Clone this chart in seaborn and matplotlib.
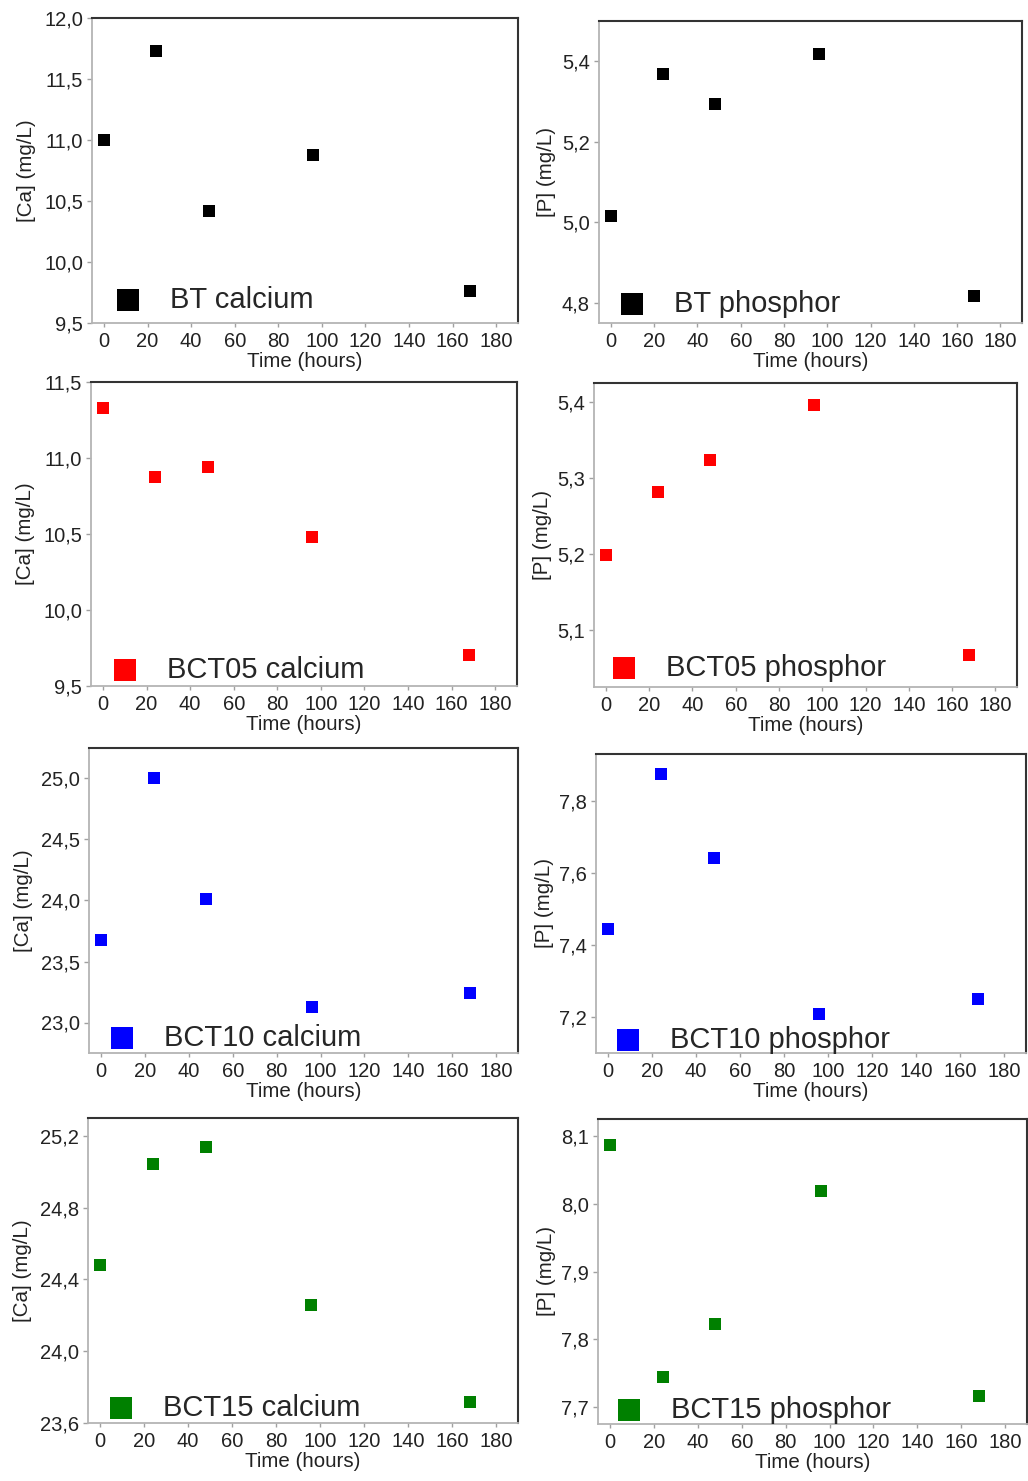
import matplotlib
matplotlib.use("Agg")
import matplotlib.pyplot as plt
from matplotlib.ticker import FixedLocator, FuncFormatter
import seaborn as sns
import pandas as pd

# ---------------- data ----------------
time_h = [0, 24, 48, 96, 168]
bt_ca = [11.00, 11.727, 10.42, 10.88, 9.763]
bt_p = [5.015, 5.369, 5.295, 5.419, 4.816]
bct05_ca = [11.33, 10.873, 10.94, 10.478, 9.706]
bct05_p = [5.199, 5.282, 5.324, 5.396, 5.067]
bct10_ca = [23.68, 25.00, 24.01, 23.126, 23.24]
bct10_p = [7.444, 7.875, 7.641, 7.208, 7.249]
bct15_ca = [24.478, 25.043, 25.137, 24.257, 23.719]
bct15_p = [8.086, 7.744, 7.823, 8.019, 7.717]

series_labels = ["BT calcium", "BT phosphor", "BCT05 calcium", "BCT05 phosphor",
                 "BCT10 calcium", "BCT10 phosphor", "BCT15 calcium", "BCT15 phosphor"]
series_values = [bt_ca, bt_p, bct05_ca, bct05_p, bct10_ca, bct10_p, bct15_ca, bct15_p]
y_labels = ["[Ca] (mg/L)", "[P] (mg/L)"] * 4
x_ticks = [0, 20, 40, 60, 80, 100, 120, 140, 160, 180]
y_ticks = [
    [9.5, 10.0, 10.5, 11.0, 11.5, 12.0],
    [4.8, 5.0, 5.2, 5.4],
    [9.5, 10.0, 10.5, 11.0, 11.5],
    [5.1, 5.2, 5.3, 5.4],
    [23.0, 23.5, 24.0, 24.5, 25.0],
    [7.2, 7.4, 7.6, 7.8],
    [23.6, 24.0, 24.4, 24.8, 25.2],
    [7.7, 7.8, 7.9, 8.0, 8.1],
]

# ---------------- layout / style ----------------
y_limits = [(9.5, 12.0), (4.75, 5.5), (9.5, 11.5), (5.025, 5.425),
            (22.75, 25.25), (7.10, 7.93), (23.6, 25.3), (7.675, 8.125)]
colors = ["#000000", "#000000", "#ff0000", "#ff0000",
          "#0000ff", "#0000ff", "#008000", "#008000"]
# axes rects in pixels: left, top, right, bottom
rects_px = [(92, 18, 518, 323), (599, 21, 1022, 323),
            (91, 382, 517, 686), (594, 383, 1017, 687),
            (89, 748, 518, 1053), (596, 754, 1026, 1053),
            (88, 1118, 518, 1423), (598, 1119, 1027, 1424)]
# legend marker centre in pixels
leg_px = [(128, 300), (632, 304), (125, 670), (624, 668),
          (122, 1038), (628, 1040), (121, 1408), (629, 1410)]
ylabel_pads = [6, 4] * 4

W, H, DPI = 1028, 1481, 100

sns.set_style("white")
plt.rcParams["font.family"] = ["Liberation Sans", "DejaVu Sans"]

fig = plt.figure(figsize=(W / DPI, H / DPI), dpi=DPI)

LEG_FS = 21
fs_px = LEG_FS * DPI / 72.0
handle_len = 1.0

for i in range(8):
    l, t, r, b = rects_px[i]
    ax = fig.add_axes([l / W, 1 - b / H, (r - l) / W, (b - t) / H])
    df = pd.DataFrame({"Time (hours)": time_h, "value": series_values[i]})
    sns.scatterplot(data=df, x="Time (hours)", y="value", ax=ax, marker="s",
                    s=80, color=colors[i], linewidth=0, label=series_labels[i])
    ax.set_xlim(-5.5, 190)
    ax.set_ylim(*y_limits[i])
    ax.xaxis.set_major_locator(FixedLocator(x_ticks))
    ax.yaxis.set_major_locator(FixedLocator(y_ticks[i]))
    ax.yaxis.set_major_formatter(FuncFormatter(lambda v, p: f"{v:.1f}".replace(".", ",")))
    ax.set_xlabel("Time (hours)", fontsize=14.8, color="#222222", labelpad=0.5)
    ax.set_ylabel(y_labels[i], fontsize=14.8, color="#222222", labelpad=ylabel_pads[i])
    ax.tick_params(axis="both", which="major", direction="out", length=3, width=1,
                   color="#a0a0a0", labelsize=14.5, labelcolor="#222222", pad=3.5,
                   bottom=True, left=True, top=False, right=False)
    ax.tick_params(axis="y", length=3.5, pad=3)
    for side in ["left", "bottom"]:
        ax.spines[side].set_color("#b4b4b4")
        ax.spines[side].set_linewidth(1.3)
    for side in ["top", "right"]:
        ax.spines[side].set_color("#333333")
        ax.spines[side].set_linewidth(1.5)
        ax.spines[side].set_visible(True)

    mx, my = leg_px[i]
    ax_w = r - l
    ax_h = b - t
    anchor_x = (mx - l - handle_len * fs_px / 2) / ax_w
    anchor_y = (b - my) / ax_h
    ax.legend(loc="center left", bbox_to_anchor=(anchor_x, anchor_y),
              bbox_transform=ax.transAxes, frameon=False, fontsize=LEG_FS,
              markerscale=1.8, handlelength=handle_len, handletextpad=0.95,
              borderpad=0, borderaxespad=0)

fig.savefig("out.png", dpi=DPI)
